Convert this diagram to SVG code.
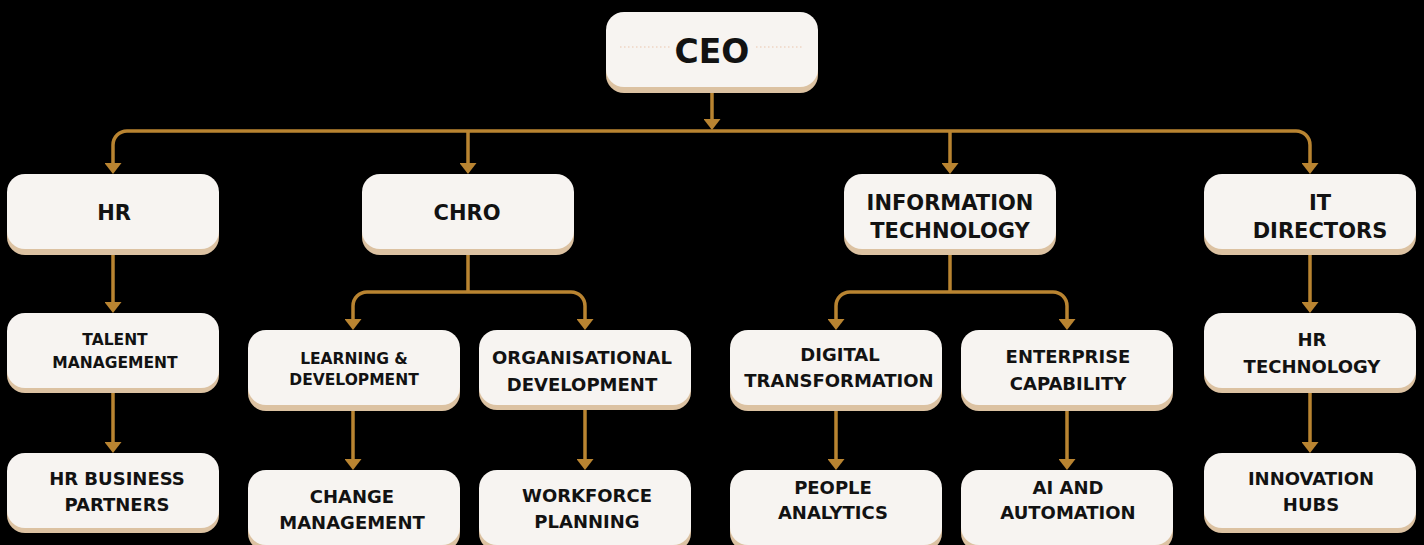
<svg xmlns="http://www.w3.org/2000/svg" width="1424" height="545" viewBox="0 0 1424 545">
<style>
.sh{fill:#DCC2A2}
.bx{fill:#F7F4F1}
.t{font-family:"DejaVu Sans","Liberation Sans",sans-serif;font-weight:bold;fill:#121212;text-anchor:middle}
.l1{font-size:21px}
.l2{font-size:18px}
.s{font-size:15.5px}
.ceo{font-size:33px}
.c{fill:none;stroke:#B98431;stroke-width:3.5}
</style>
<defs>
<marker id="ah" markerUnits="userSpaceOnUse" markerWidth="12" markerHeight="17" viewBox="0 0 12 17" refX="3" refY="8.5" orient="auto">
<path d="M0,0 L11,8.5 L0,17 z" fill="#B98431"/>
</marker>
</defs>
<rect width="1424" height="545" fill="#000"/>

<g id="connectors">
<path class="c" d="M712,92 V122" marker-end="url(#ah)"/>
<path class="c" d="M712,131 H127 A14,14 0 0 0 113,145 V166" marker-end="url(#ah)"/>
<path class="c" d="M712,131 H1296 A14,14 0 0 1 1310,145 V166" marker-end="url(#ah)"/>
<path class="c" d="M468,131 V166" marker-end="url(#ah)"/>
<path class="c" d="M950,131 V166" marker-end="url(#ah)"/>

<path class="c" d="M113,255 V305" marker-end="url(#ah)"/>
<path class="c" d="M468,255 V292"/>
<path class="c" d="M468,292 H367 A14,14 0 0 0 353,306 V322" marker-end="url(#ah)"/>
<path class="c" d="M468,292 H571 A14,14 0 0 1 585,306 V322" marker-end="url(#ah)"/>
<path class="c" d="M950,255 V292"/>
<path class="c" d="M950,292 H850 A14,14 0 0 0 836,306 V322" marker-end="url(#ah)"/>
<path class="c" d="M950,292 H1053 A14,14 0 0 1 1067,306 V322" marker-end="url(#ah)"/>
<path class="c" d="M1310,255 V305" marker-end="url(#ah)"/>

<path class="c" d="M113,393 V445" marker-end="url(#ah)"/>
<path class="c" d="M353,411 V462" marker-end="url(#ah)"/>
<path class="c" d="M585,408 V462" marker-end="url(#ah)"/>
<path class="c" d="M836,411 V462" marker-end="url(#ah)"/>
<path class="c" d="M1067,411 V462" marker-end="url(#ah)"/>
<path class="c" d="M1310,393 V445" marker-end="url(#ah)"/>
</g>

<g id="ceo">
<rect class="sh" x="606" y="18" width="212" height="75" rx="18"/>
<rect class="bx" x="606" y="12" width="212" height="75" rx="18"/>
<line x1="620" y1="47" x2="803" y2="47" stroke="#EFD5C4" stroke-width="1.5" stroke-dasharray="1.5 2.5"/>
<rect x="670" y="30" width="84" height="34" fill="#F7F4F1"/>
<text class="t ceo" x="712" y="63">CEO</text>
</g>

<g id="hr">
<rect class="sh" x="7" y="180" width="212" height="75" rx="18"/>
<rect class="bx" x="7" y="174" width="212" height="75" rx="18"/>
<text class="t l1" x="114" y="220">HR</text>
</g>
<g id="chro">
<rect class="sh" x="362" y="180" width="212" height="75" rx="18"/>
<rect class="bx" x="362" y="174" width="212" height="75" rx="18"/>
<text class="t l1" x="467" y="220">CHRO</text>
</g>
<g id="it">
<rect class="sh" x="844" y="180" width="212" height="75" rx="18"/>
<rect class="bx" x="844" y="174" width="212" height="75" rx="18"/>
<text class="t l1" x="950" y="210">INFORMATION</text>
<text class="t l1" x="950" y="238">TECHNOLOGY</text>
</g>
<g id="itdir">
<rect class="sh" x="1204" y="180" width="212" height="75" rx="18"/>
<rect class="bx" x="1204" y="174" width="212" height="75" rx="18"/>
<text class="t l1" x="1320" y="210">IT</text>
<text class="t l1" x="1320" y="238">DIRECTORS</text>
</g>

<g id="talent">
<rect class="sh" x="7" y="318" width="212" height="75" rx="18"/>
<rect class="bx" x="7" y="313" width="212" height="75" rx="18"/>
<text class="t s" x="115" y="345">TALENT</text>
<text class="t s" x="115" y="368">MANAGEMENT</text>
</g>
<g id="ld">
<rect class="sh" x="248" y="336" width="212" height="75" rx="18"/>
<rect class="bx" x="248" y="330" width="212" height="75" rx="18"/>
<text class="t s" x="354" y="364">LEARNING &amp;</text>
<text class="t s" x="354" y="385">DEVELOPMENT</text>
</g>
<g id="od">
<rect class="sh" x="479" y="335" width="212" height="75" rx="18"/>
<rect class="bx" x="479" y="330" width="212" height="75" rx="18"/>
<text class="t l2" x="582" y="364">ORGANISATIONAL</text>
<text class="t l2" x="582" y="391">DEVELOPMENT</text>
</g>
<g id="dt">
<rect class="sh" x="730" y="336" width="212" height="75" rx="18"/>
<rect class="bx" x="730" y="330" width="212" height="75" rx="18"/>
<text class="t l2" x="840" y="361">DIGITAL</text>
<text class="t l2" x="839" y="387">TRANSFORMATION</text>
</g>
<g id="ec">
<rect class="sh" x="961" y="336" width="212" height="75" rx="18"/>
<rect class="bx" x="961" y="330" width="212" height="75" rx="18"/>
<text class="t l2" x="1068" y="363">ENTERPRISE</text>
<text class="t l2" x="1068" y="390">CAPABILITY</text>
</g>
<g id="hrtech">
<rect class="sh" x="1204" y="318" width="212" height="75" rx="18"/>
<rect class="bx" x="1204" y="313" width="212" height="75" rx="18"/>
<text class="t l2" x="1312" y="346">HR</text>
<text class="t l2" x="1312" y="373">TECHNOLOGY</text>
</g>

<g id="hrbp">
<rect class="sh" x="7" y="458" width="212" height="75" rx="18"/>
<rect class="bx" x="7" y="453" width="212" height="75" rx="18"/>
<text class="t l2" x="117" y="485">HR BUSINESS</text>
<text class="t l2" x="117" y="511">PARTNERS</text>
</g>
<g id="cm">
<rect class="sh" x="248" y="476" width="212" height="75" rx="18"/>
<rect class="bx" x="248" y="470" width="212" height="75" rx="18"/>
<text class="t l2" x="352" y="503">CHANGE</text>
<text class="t l2" x="352" y="529">MANAGEMENT</text>
</g>
<g id="wp">
<rect class="sh" x="479" y="476" width="212" height="75" rx="18"/>
<rect class="bx" x="479" y="470" width="212" height="75" rx="18"/>
<text class="t l2" x="587" y="502">WORKFORCE</text>
<text class="t l2" x="587" y="528">PLANNING</text>
</g>
<g id="pa">
<rect class="sh" x="730" y="476" width="212" height="75" rx="18"/>
<rect class="bx" x="730" y="470" width="212" height="75" rx="18"/>
<text class="t l2" x="833" y="494">PEOPLE</text>
<text class="t l2" x="833" y="519">ANALYTICS</text>
</g>
<g id="ai">
<rect class="sh" x="961" y="476" width="212" height="75" rx="18"/>
<rect class="bx" x="961" y="470" width="212" height="75" rx="18"/>
<text class="t l2" x="1068" y="494">AI AND</text>
<text class="t l2" x="1068" y="519">AUTOMATION</text>
</g>
<g id="ih">
<rect class="sh" x="1204" y="458" width="212" height="75" rx="18"/>
<rect class="bx" x="1204" y="453" width="212" height="75" rx="18"/>
<text class="t l2" x="1311" y="485">INNOVATION</text>
<text class="t l2" x="1311" y="511">HUBS</text>
</g>
</svg>
